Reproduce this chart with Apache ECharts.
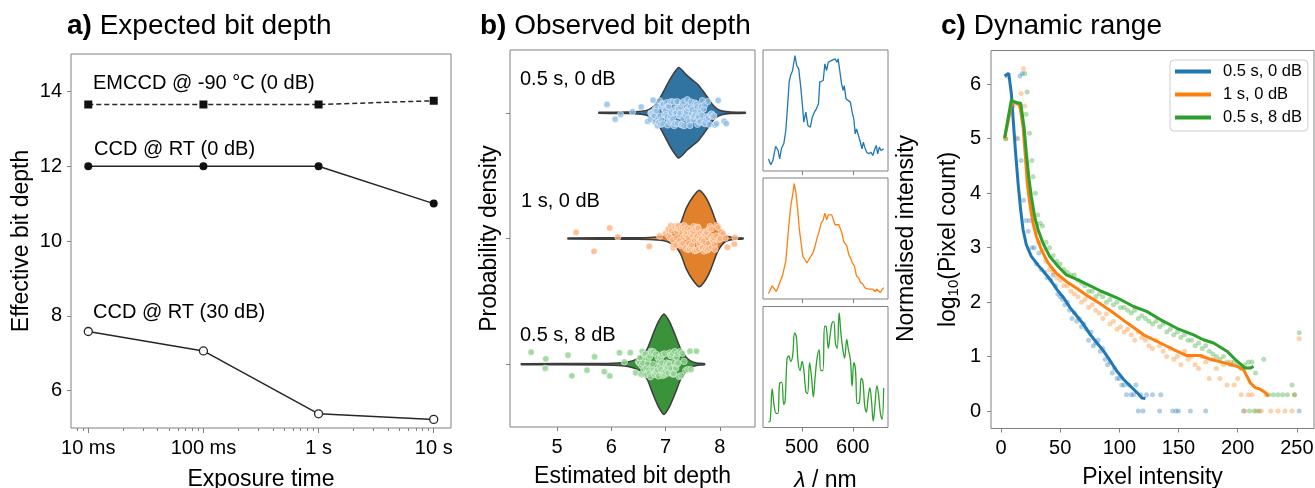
<!DOCTYPE html>
<html><head><meta charset="utf-8">
<script src="https://cdn.jsdelivr.net/npm/echarts@6/dist/echarts.min.js"></script>
<style>html,body{margin:0;padding:0;background:#fff}#c{width:1315px;height:488px}</style>
</head><body><div id="c"></div>
<script>
// ---------- Panel a: expected bit depth ----------
const exposureSeconds = [0.01, 0.1, 1, 10];
const exposureLabels = ['10 ms', '100 ms', '1 s', '10 s'];
const emccdDepth = [13.65, 13.65, 13.65, 13.75];
const ccd0Depth = [12, 12, 12, 11];
const ccd30Depth = [7.58, 7.06, 5.38, 5.23];
const seriesNamesA = ['EMCCD @ -90 °C (0 dB)', 'CCD @ RT (0 dB)', 'CCD @ RT (30 dB)'];
const depthTicks = [6, 8, 10, 12, 14];

// ---------- Panel b: observed bit depth ----------
const conditions = ['0.5 s, 0 dB', '1 s, 0 dB', '0.5 s, 8 dB'];
const bitTicks = [5, 6, 7, 8];
// violin profiles: [bit depth, relative density]
const violinBlue = [[5.77,0.01],[6.3,0.015],[6.55,0.03],[6.7,0.07],[6.8,0.15],[6.9,0.3],[7.0,0.5],[7.1,0.7],[7.24,0.9],[7.4,0.74],[7.5,0.65],[7.6,0.56],[7.7,0.42],[7.78,0.3],[7.87,0.16],[7.95,0.08],[8.05,0.035],[8.2,0.015],[8.47,0.01]];
const violinOrange = [[5.2,0.01],[6.5,0.015],[6.85,0.03],[7.05,0.07],[7.18,0.16],[7.28,0.31],[7.38,0.6],[7.5,0.82],[7.62,0.96],[7.74,0.82],[7.84,0.6],[7.94,0.31],[8.03,0.14],[8.12,0.05],[8.25,0.02],[8.43,0.01]];
const violinGreen = [[4.34,0.01],[5.8,0.015],[6.2,0.03],[6.4,0.07],[6.55,0.15],[6.66,0.3],[6.77,0.6],[6.87,0.85],[6.97,1.0],[7.07,0.85],[7.17,0.6],[7.28,0.3],[7.38,0.14],[7.47,0.06],[7.57,0.025],[7.72,0.01]];
// individual estimates (strip points)
const stripBlue = [5.92,6.07,6.17,6.39,6.55,6.67,6.72,6.73,6.74,6.76,6.77,6.78,6.79,6.8,6.81,6.82,6.83,6.84,6.85,6.86,6.87,6.88,6.89,6.9,6.91,6.92,6.93,6.94,6.95,6.96,6.97,6.98,6.99,7.0,7.01,7.02,7.03,7.04,7.05,7.06,7.07,7.08,7.09,7.1,7.11,7.12,7.13,7.14,7.15,7.16,7.17,7.18,7.19,7.2,7.21,7.22,7.23,7.24,7.25,7.26,7.27,7.28,7.29,7.3,7.31,7.32,7.33,7.34,7.35,7.36,7.37,7.38,7.39,7.4,7.41,7.42,7.43,7.44,7.45,7.46,7.47,7.48,7.49,7.5,7.51,7.52,7.53,7.54,7.55,7.56,7.57,7.58,7.59,7.6,7.61,7.62,7.63,7.64,7.65,7.66,7.67,7.68,7.7,7.71,7.72,7.73,7.75,7.76,7.78,7.79,7.81,7.83,7.85,7.87,7.89,7.91,7.94,7.97,8.08,8.12];
const stripOrange = [5.35,5.68,5.97,6.12,6.7,6.89,7.0,7.05,7.06,7.08,7.1,7.11,7.13,7.14,7.15,7.16,7.18,7.19,7.2,7.21,7.22,7.23,7.24,7.26,7.27,7.28,7.29,7.3,7.31,7.32,7.33,7.34,7.35,7.36,7.37,7.38,7.39,7.4,7.41,7.42,7.43,7.44,7.45,7.46,7.47,7.48,7.49,7.5,7.51,7.52,7.53,7.54,7.55,7.56,7.57,7.58,7.59,7.6,7.61,7.62,7.63,7.64,7.65,7.66,7.67,7.68,7.69,7.7,7.71,7.72,7.73,7.74,7.75,7.76,7.77,7.78,7.79,7.8,7.81,7.82,7.83,7.84,7.85,7.86,7.87,7.88,7.89,7.9,7.91,7.93,7.95,7.97,7.99,8.01,8.03,8.06,8.1,8.14,8.27,8.28];
const stripGreen = [4.52,4.78,4.79,5.2,5.27,5.55,5.69,5.87,5.97,6.15,6.24,6.35,6.45,6.5,6.52,6.53,6.55,6.56,6.57,6.58,6.6,6.61,6.62,6.63,6.64,6.65,6.66,6.67,6.68,6.69,6.7,6.71,6.72,6.73,6.74,6.75,6.76,6.77,6.78,6.79,6.8,6.81,6.82,6.83,6.84,6.85,6.86,6.87,6.88,6.89,6.9,6.91,6.92,6.93,6.94,6.95,6.96,6.97,6.98,6.99,7.0,7.01,7.02,7.03,7.04,7.05,7.06,7.07,7.08,7.09,7.1,7.11,7.12,7.13,7.14,7.15,7.16,7.17,7.18,7.19,7.2,7.21,7.22,7.23,7.25,7.27,7.29,7.31,7.34,7.37,7.41,7.45,7.47,7.57];
// spectra: [wavelength nm, normalised intensity]
const nmTicks = [500, 600];
const specBlue = [[434.7,0.06],[439.3,0.006],[443.3,0.045],[448.7,0.173],[453.3,0.142],[456.7,0.061],[460,0.152],[464.7,0.197],[468.7,0.318],[472,0.53],[475.3,0.758],[478,0.818],[482,0.864],[486.7,1.0],[490,0.909],[494,0.879],[498,0.712],[501.3,0.545],[504,0.394],[508,0.485],[512,0.364],[516.7,0.348],[520.7,0.439],[524.7,0.485],[528.7,0.515],[532.7,0.561],[535.3,0.758],[538.7,0.742],[542,0.773],[545.3,0.924],[548.7,0.864],[552,0.939],[555.3,0.924],[558.7,0.955],[562,0.939],[565.3,0.97],[568.7,0.939],[571.3,0.97],[573.3,0.985],[578,0.742],[581.3,0.682],[583.3,0.727],[586.7,0.606],[590,0.591],[595.3,0.576],[598.7,0.485],[602,0.424],[604.7,0.288],[607.3,0.333],[610.7,0.318],[614,0.227],[618,0.152],[620.7,0.212],[623.3,0.167],[627.3,0.121],[631.3,0.106],[635.3,0.121],[639.3,0.091],[643.3,0.152],[646,0.182],[648.7,0.106],[652,0.167],[655.3,0.136],[658,0.136],[660.5,0.152]];
const specOrange = [[434.7,0],[438,0.009],[442,0.069],[445.3,0.069],[450,0.018],[453.3,0.054],[458,0.114],[462,0.159],[465.3,0.168],[468.7,0.294],[472,0.474],[475.3,0.655],[478.7,0.805],[482,0.895],[485.3,1.0],[488.7,0.91],[492,0.76],[495.3,0.58],[498.7,0.459],[502,0.339],[506,0.309],[510,0.279],[514,0.309],[518,0.339],[522,0.369],[526,0.429],[530,0.505],[534,0.565],[538,0.64],[542,0.67],[545.3,0.73],[548.7,0.67],[552,0.715],[555.3,0.7],[558.7,0.715],[562,0.715],[565.3,0.625],[568.7,0.625],[572.7,0.625],[575.3,0.61],[578.7,0.55],[582,0.474],[585.3,0.459],[588.7,0.429],[592,0.354],[595.3,0.324],[599.3,0.279],[603.3,0.249],[607.3,0.159],[611.3,0.144],[615.3,0.099],[620,0.084],[623.3,0.054],[627.3,0.045],[631.3,0.039],[635.3,0.039],[639.3,0.039],[643.3,0.018],[647.3,0.039],[650,0.054],[654,0.009],[658,0.039],[660.5,0.054]];
const specGreen = [[434.7,0],[438,0.009],[442,0.30],[446,0.144],[450,0.078],[453.3,0.078],[456.7,0.354],[460.7,0.36],[464.7,0.16],[467.3,0.19],[471.3,0.58],[474.7,0.6],[478,0.55],[482,0.6],[486,0.811],[489.3,0.775],[492.7,0.55],[496.7,0.468],[500.7,0.55],[504,0.474],[508,0.279],[511.3,0.258],[515.3,0.54],[519.3,0.399],[522.7,0.228],[526,0.399],[530,0.58],[534,0.655],[537.3,0.468],[541.3,0.468],[544.7,0.871],[548,0.865],[552,0.67],[556,0.805],[559.3,0.901],[562.7,0.913],[566,0.715],[569.3,0.67],[573.3,0.991],[576.7,0.805],[580.7,0.655],[584,0.58],[588,0.751],[591.3,0.66],[595.3,0.565],[598.7,0.324],[602,0.54],[605.3,0.474],[608.7,0.168],[612.7,0.174],[616.7,0.399],[620,0.36],[623.3,0.15],[626.7,0.09],[630,0.22],[633.3,0.309],[636.7,0.189],[640,0.009],[643.3,0.144],[647.3,0.33],[650.7,0.24],[654,0.084],[657.3,0.024],[660.5,0.309]];

// ---------- Panel c: dynamic range ----------
const intensityTicks = [0, 50, 100, 150, 200, 250];
const logTicks = [0, 1, 2, 3, 4, 5, 6];
const histLineBlue = [[3,6.15],[6.5,6.2],[8.7,5.83],[10.1,5.4],[12.1,4.79],[14.4,4.18],[16.6,3.69],[18.6,3.33],[21.4,3.05],[25.6,2.84],[31.3,2.68],[36,2.56],[41.7,2.41],[47.3,2.23],[52.9,2.08],[58.6,1.89],[64.2,1.74],[69.8,1.59],[75.5,1.4],[81.1,1.25],[86.7,1.1],[92.3,0.92],[98,0.73],[103.6,0.58],[109.2,0.46],[114.9,0.34],[119.1,0.24],[122,0.23]];
const histLineOrange = [[3,5.0],[9.3,5.68],[12.9,5.65],[15.8,5.62],[18.6,5.22],[20.6,4.67],[22.2,4.18],[24.2,3.82],[27,3.45],[29.8,3.21],[34.1,2.96],[39.7,2.72],[46.7,2.53],[55.2,2.38],[63.6,2.26],[73.5,2.11],[83.3,1.98],[95.2,1.8],[106.4,1.62],[120.5,1.4],[134.6,1.25],[145.8,1.13],[157.1,1.02],[168.4,1.02],[176.8,0.95],[188.1,0.89],[199.3,0.82],[205,0.76],[210.6,0.52],[214.8,0.43],[219,0.4],[223.3,0.34],[226,0.27]];
const histLineGreen = [[3,5.02],[8.7,5.71],[11,5.68],[13.8,5.66],[16.6,5.65],[19.4,5.22],[21.4,4.73],[23.4,4.3],[25.6,3.94],[28.4,3.57],[31.3,3.33],[35.5,3.08],[41.1,2.84],[48.1,2.66],[55.2,2.5],[65,2.41],[76.3,2.29],[84.7,2.2],[98,2.08],[112,1.92],[123,1.83],[134.6,1.68],[148.6,1.52],[162.7,1.4],[171,1.31],[179.6,1.25],[190.9,1.1],[199.3,0.92],[206.4,0.79],[210.6,0.79],[213.4,0.82]];
const histDotsBlue = [[5,6.15],[16,6.15],[18,6.2],[10,5.6],[14,5.0],[17,4.6],[19,3.87],[21,3.5],[23,3.3],[24,3.5],[26,3.0],[28,3.0],[30,2.7],[32,2.9],[34,2.6],[37,2.55],[39,2.45],[42,2.4],[44,2.5],[46,2.3],[48,2.15],[50,2.1],[52,2.05],[54,1.95],[56,2.0],[58,1.85],[60,1.7],[62,1.8],[64,1.65],[66,1.7],[68,1.55],[70,1.6],[72,1.5],[74,1.3],[76,1.45],[78,1.2],[80,1.25],[82,1.3],[84,1.1],[86,1.15],[88,0.95],[90,0.85],[92,0.9],[94,0.7],[96,0.78],[98,0.6],[100,0.6],[102,0.48],[104,0.48],[106,0.3],[108,0.48],[110,0.3],[112,0.3],[114,0.48],[116,0],[118,0.3],[120,0],[123,0.3],[128,0.3],[134,0],[135,0.3],[145,0],[148,0],[150,0],[160,0],[173,0],[205,0],[252,0]];
const histDotsOrange = [[4,5.0],[13,5.02],[16,5.6],[17,5.83],[19,6.29],[20,5.6],[22,4.55],[24,4.0],[26,3.7],[28,3.5],[30,3.3],[32,3.1],[35,2.95],[38,2.75],[41,2.6],[44,2.55],[47,2.45],[50,2.4],[53,2.3],[56,2.3],[59,2.2],[62,2.15],[65,2.1],[68,2.0],[71,2.05],[74,1.9],[77,1.95],[80,1.85],[83,1.8],[86,1.7],[89,1.78],[92,1.6],[95,1.65],[98,1.5],[101,1.55],[104,1.45],[107,1.5],[110,1.4],[113,1.3],[116,1.45],[119,1.35],[122,1.3],[125,1.2],[128,1.15],[131,1.3],[134,1.2],[137,1.1],[140,1.0],[143,1.15],[146,0.95],[149,1.0],[152,0.85],[155,1.1],[158,0.95],[161,1.0],[164,0.85],[167,0.78],[170,1.0],[173,0.9],[176,0.6],[179,0.95],[182,0.78],[185,0.6],[188,0.85],[191,0.48],[194,0.9],[197,0.48],[200,0.6],[203,0.3],[206,0],[209,0.3],[212,0.3],[216,0],[220,0],[224,0.3],[228,0],[234,0],[240,0],[246,0],[248,0.3],[252,1.33]];
const histDotsGreen = [[4,5.0],[20,6.2],[22,5.86],[21,5.45],[24,5.1],[26,4.6],[27,4.3],[29,4.0],[31,3.6],[33,3.45],[35,3.4],[38,3.1],[41,3.0],[44,2.85],[47,2.75],[50,2.7],[53,2.6],[56,2.55],[59,2.5],[62,2.5],[65,2.4],[68,2.35],[71,2.3],[74,2.2],[77,2.2],[80,2.1],[83,2.15],[86,2.1],[89,2.0],[92,2.05],[95,1.95],[98,2.0],[101,1.9],[104,1.9],[107,1.85],[110,1.8],[113,1.85],[116,1.7],[119,1.75],[122,1.7],[125,1.65],[128,1.6],[131,1.65],[134,1.55],[137,1.6],[140,1.45],[143,1.5],[146,1.4],[149,1.45],[152,1.35],[155,1.4],[158,1.3],[161,1.3],[164,1.2],[167,1.25],[170,1.15],[173,1.2],[176,1.1],[179,1.05],[182,1.0],[185,0.95],[188,1.0],[191,0.9],[194,0.85],[197,0.9],[200,0.85],[203,0.78],[206,0.85],[209,0.9],[212,0.9],[215,0.7],[222,0.95],[226,0.3],[230,0.3],[234,0.3],[238,0.3],[242,0.3],[246,0.48],[248,0.3],[252,1.44],[210,0],[214,0],[218,0]];

// ---------- build chart ----------
const FONT = 'Liberation Sans';
const TAB = ['#1f77b4', '#ff7f0e', '#2ca02c'];
const VIOLIN = ['#3274a1', '#e1812c', '#3a923a'];
const DOT = ['#8fbde6', '#fdb27a', '#8fd18f'];
const BORDER = '#808080';
const violins = [violinBlue, violinOrange, violinGreen];
const strips = [stripBlue, stripOrange, stripGreen];
const spectra = [specBlue, specOrange, specGreen];
const histLines = [histLineBlue, histLineOrange, histLineGreen];
const histDots = [histDotsBlue, histDotsOrange, histDotsGreen];

const log10 = Math.log10;
const aMin = -2.15, aMax = 1.15;
const minorVals = [];
for (let d = -3; d <= 1; d++) for (let k = 2; k <= 9; k++) {
  const v = d + log10(k);
  if (v > aMin && v < aMax) minorVals.push(v);
}
// deterministic strip-plot jitter (visual spread only, in [-0.5, 0.5])
const jitter = (i) => { const s = Math.sin(i * 12.9898 + 78.233) * 43758.5453; return s - Math.floor(s) - 0.5; };

const gridBox = {show: true, borderColor: BORDER, borderWidth: 1, backgroundColor: 'transparent', outerBoundsMode: 'none', containLabel: false};
const lbl = (extra) => Object.assign({color: '#000', fontSize: 20, fontFamily: FONT}, extra || {});
const tick = (extra) => Object.assign({show: true, length: 4, lineStyle: {color: BORDER}}, extra || {});
const nameStyle = (extra) => Object.assign({color: '#000', fontSize: 23, fontFamily: FONT}, extra || {});
const plain = {axisLine: {show: false, onZero: false}, splitLine: {show: false}};

const grids = [
  Object.assign({left: 71, top: 54, width: 380, height: 374}, gridBox),
  Object.assign({left: 510, top: 50, width: 245, height: 377}, gridBox),
  Object.assign({left: 763, top: 50, width: 125, height: 121}, gridBox),
  Object.assign({left: 763, top: 178, width: 125, height: 121}, gridBox),
  Object.assign({left: 763, top: 306.5, width: 125, height: 121}, gridBox),
  Object.assign({left: 991, top: 50.5, width: 323, height: 378}, gridBox)
];

const xAxes = [
  Object.assign({type: 'value', gridIndex: 0, position: 'bottom', min: aMin, max: aMax, name: 'Exposure time', nameLocation: 'middle', nameGap: 40, nameTextStyle: nameStyle(),
    axisTick: tick({customValues: exposureSeconds.map(log10), length: 5}),
    axisLabel: lbl({customValues: exposureSeconds.map(log10), margin: 10, formatter: v => exposureLabels[exposureSeconds.findIndex(s => Math.abs(log10(s) - v) < 1e-6)]})}, plain),
  Object.assign({type: 'value', gridIndex: 0, position: 'bottom', min: aMin, max: aMax, axisTick: tick({customValues: minorVals, length: 3}), axisLabel: {show: false}}, plain),
  Object.assign({type: 'value', gridIndex: 1, position: 'bottom', min: 4.13, max: 8.65, name: 'Estimated bit depth', nameLocation: 'middle', nameGap: 38, nameTextStyle: nameStyle(),
    axisTick: tick({customValues: bitTicks}), axisLabel: lbl({customValues: bitTicks, margin: 10})}, plain),
  Object.assign({type: 'value', gridIndex: 2, position: 'bottom', min: 424, max: 669, axisTick: tick({customValues: nmTicks}), axisLabel: {show: false}}, plain),
  Object.assign({type: 'value', gridIndex: 3, position: 'bottom', min: 424, max: 669, axisTick: tick({customValues: nmTicks}), axisLabel: {show: false}}, plain),
  Object.assign({type: 'value', gridIndex: 4, position: 'bottom', min: 424, max: 669, name: '{i|λ} / nm', nameLocation: 'middle', nameGap: 42,
    nameTextStyle: nameStyle({rich: {i: {fontStyle: 'italic', fontSize: 23, fontFamily: FONT, color: '#000'}}}),
    axisTick: tick({customValues: nmTicks}), axisLabel: lbl({customValues: nmTicks, margin: 10})}, plain),
  Object.assign({type: 'value', gridIndex: 5, position: 'bottom', min: -8.5, max: 264.5, name: 'Pixel intensity', nameLocation: 'middle', nameGap: 38, nameTextStyle: nameStyle(),
    axisTick: tick({customValues: intensityTicks}), axisLabel: lbl({customValues: intensityTicks, margin: 10})}, plain)
];
const yAxes = [
  Object.assign({type: 'value', gridIndex: 0, position: 'left', min: 5, max: 15, name: 'Effective bit depth', nameLocation: 'middle', nameGap: 38, nameTextStyle: nameStyle(),
    axisTick: tick({customValues: depthTicks}), axisLabel: lbl({customValues: depthTicks, margin: 9})}, plain),
  Object.assign({type: 'category', gridIndex: 1, position: 'left', data: conditions, inverse: true, boundaryGap: true, name: 'Probability density', nameLocation: 'middle', nameGap: 9, nameTextStyle: nameStyle(),
    axisTick: tick({alignWithLabel: true}), axisLabel: {show: false}}, plain),
  Object.assign({type: 'value', gridIndex: 2, min: -0.05, max: 1.05, axisTick: {show: false}, axisLabel: {show: false}}, plain),
  Object.assign({type: 'value', gridIndex: 3, min: -0.05, max: 1.05, position: 'right', name: 'Normalised intensity', nameLocation: 'middle', nameRotate: 90, nameGap: 7, nameTextStyle: nameStyle(),
    axisTick: {show: false}, axisLabel: {show: false}}, plain),
  Object.assign({type: 'value', gridIndex: 4, min: -0.05, max: 1.05, axisTick: {show: false}, axisLabel: {show: false}}, plain),
  Object.assign({type: 'value', gridIndex: 5, position: 'left', min: -0.32, max: 6.62, name: 'log{s|10}(Pixel count)', nameLocation: 'middle', nameGap: 30,
    nameTextStyle: nameStyle({rich: {s: {fontSize: 15, fontFamily: FONT, color: '#000', padding: [9, 0, 0, 0]}}}),
    axisTick: tick({customValues: logTicks}), axisLabel: lbl({customValues: logTicks, margin: 10})}, plain)
];

const series = [];
// panel a
const aData = [emccdDepth, ccd0Depth, ccd30Depth];
const aSymbols = ['rect', 'circle', 'circle'];
aData.forEach((vals, k) => {
  series.push({
    type: 'line', name: seriesNamesA[k], xAxisIndex: 0, yAxisIndex: 0,
    data: exposureSeconds.map((t, i) => [log10(t), vals[i]]),
    symbol: aSymbols[k], symbolSize: 8,
    lineStyle: {color: '#262626', width: 1.5, type: k === 0 ? [5, 3] : 'solid'},
    itemStyle: {color: k === 2 ? '#fff' : '#111', borderColor: '#262626', borderWidth: k === 2 ? 1.3 : 0},
    z: 3, silent: true, animation: false
  });
});
// panel b violins and strips
violins.forEach((prof, g) => {
  series.push({
    type: 'custom', xAxisIndex: 2, yAxisIndex: 1, data: [[prof[0][0], g]], clip: true, silent: true, z: 2,
    renderItem: (params, api) => {
      const band = Math.abs(api.coord([7, 1])[1] - api.coord([7, 0])[1]);
      const up = [], down = [];
      prof.forEach(([x, d]) => {
        const p = api.coord([x, g]);
        up.push([p[0], p[1] - d * band * 0.4]);
        down.push([p[0], p[1] + d * band * 0.4]);
      });
      return {type: 'polygon', shape: {points: up.concat(down.reverse()), smooth: 0.2},
        style: {fill: VIOLIN[g], stroke: '#3c3c3c', lineWidth: 1.5}};
    }
  });
  series.push({
    type: 'custom', xAxisIndex: 2, yAxisIndex: 1, data: strips[g].map((x, i) => [x, g, i]), clip: true, silent: true, z: 3,
    renderItem: (params, api) => {
      const band = Math.abs(api.coord([7, 1])[1] - api.coord([7, 0])[1]);
      const p = api.coord([api.value(0), g]);
      const j = jitter(api.value(2) + g * 1000);
      return {type: 'circle', shape: {cx: p[0], cy: p[1] + j * band * 0.21, r: 3.2},
        style: {fill: DOT[g], opacity: 0.8, stroke: '#fff', lineWidth: 0.6}};
    }
  });
});
// spectra
spectra.forEach((s, g) => {
  series.push({type: 'line', xAxisIndex: 3 + g, yAxisIndex: 2 + g, data: s, showSymbol: false, symbol: 'none',
    smooth: g === 2 ? 0.4 : false, lineStyle: {color: TAB[g], width: 1.3}, silent: true, animation: false});
});
// panel c
histDots.forEach((d, g) => {
  series.push({type: 'scatter', name: 'dots' + g, xAxisIndex: 6, yAxisIndex: 5, data: d, symbolSize: 5,
    itemStyle: {color: TAB[g], opacity: 0.35}, silent: true, animation: false, z: 2});
});
histLines.forEach((d, g) => {
  series.push({type: 'line', name: conditions[g], xAxisIndex: 6, yAxisIndex: 5, data: d, showSymbol: false, symbol: 'none',
    lineStyle: {color: TAB[g], width: 3}, itemStyle: {color: TAB[g]}, silent: true, animation: false, z: 3});
});

const titleRich = {b: {fontWeight: 'bold', fontSize: 28, fontFamily: FONT, fill: '#000'}};
const textEl = (x, y, text, size, extra) => ({type: 'text', x: x, y: y, silent: true,
  style: Object.assign({text: text, fontSize: size, fontFamily: FONT, fill: '#000', verticalAlign: 'middle'}, extra || {})});
const graphic = [
  textEl(67, 26, '{b|a)} Expected bit depth', 28, {rich: titleRich}),
  textEl(480, 26, '{b|b)} Observed bit depth', 28, {rich: titleRich}),
  textEl(941, 26, '{b|c)} Dynamic range', 28, {rich: titleRich}),
  textEl(93, 83, seriesNamesA[0], 20),
  textEl(94, 149, seriesNamesA[1], 20),
  textEl(93, 312, seriesNamesA[2], 20),
  textEl(520, 79, conditions[0], 20),
  textEl(521, 201, conditions[1], 20),
  textEl(520, 335, conditions[2], 20)
];

const chart = echarts.init(document.getElementById('c'), null, {renderer: 'canvas'});
chart.setOption({
  animation: false,
  textStyle: {fontFamily: FONT},
  grid: grids, xAxis: xAxes, yAxis: yAxes, series: series, graphic: graphic,
  legend: {data: conditions, left: 1170, top: 60, orient: 'vertical', icon: 'rect', itemWidth: 36, itemHeight: 4, itemGap: 6,
    padding: [3, 6, 5, 5], backgroundColor: 'rgba(255,255,255,0.85)', borderColor: '#cccccc', borderWidth: 1, borderRadius: 4,
    textStyle: {fontSize: 16.5, fontFamily: FONT, color: '#000', padding: [0, 0, 0, 7]}, selectedMode: false}
});
</script></body></html>
